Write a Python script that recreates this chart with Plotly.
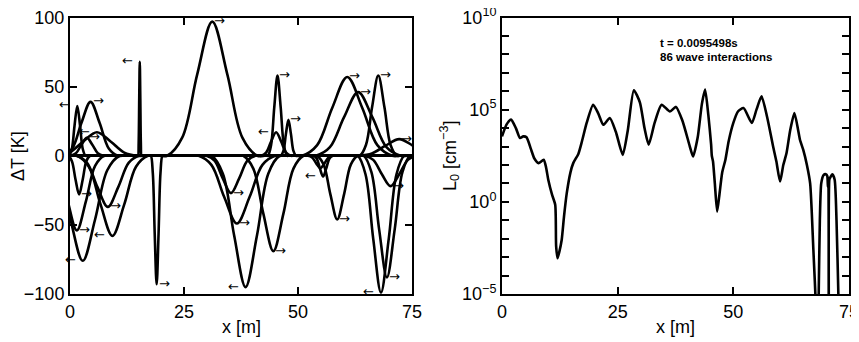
import numpy as np
import plotly.graph_objects as go

# ---------------------------------------------------------------------------
# Datos: pulsos de temperatura (panel izquierdo)
# ---------------------------------------------------------------------------
pulse_x = [
    [-0.5, -0.2, 0.4, 1.0, 1.6, 2.2, 2.8, 3.4, 3.7, 75],
    [-2.5, -1.5, 0.5, 2.5, 4.5, 6.5, 8.5, 10.5, 11.5, 75],
    [-4.6, -3.1, -0.1, 2.9, 5.9, 8.9, 11.9, 14.9, 16.4, 75],
    [-0.5, 0.1, 1.3, 2.5, 3.7, 4.9, 6.1, 7.3, 7.9, 75],
    [0, 14.88, 14.94, 15.06, 15.18, 15.3, 15.42, 15.54, 15.66, 15.72, 75],
    [0, 19.65, 21.3, 24.6, 27.9, 31.2, 34.5, 37.8, 41.1, 42.75, 75],
    [0, 43.05, 43.4, 44.1, 44.8, 45.5, 46.2, 46.9, 47.6, 47.95, 75],
    [0, 41.35, 41.9, 43.0, 44.1, 45.2, 46.3, 47.4, 48.5, 49.05, 75],
    [0, 45.98, 46.25, 46.8, 47.35, 47.9, 48.45, 49.0, 49.55, 49.83, 75],
    [0, 49.25, 50.9, 54.2, 57.5, 60.8, 64.1, 67.4, 70.7, 72.35, 75],
    [0, 52.35, 53.9, 57.0, 60.1, 63.2, 66.3, 69.4, 72.5, 74.05, 75],
    [0, 62.88, 63.55, 64.9, 66.25, 67.6, 68.95, 70.3, 71.65, 72.33, 75],
    [0, 61.7, 63.2, 66.2, 69.2, 72.2, 75.2, 78.2],
    [-0.8, -0.4, 0.4, 1.2, 2.0, 2.8, 3.6, 4.4, 4.8, 75],
    [-5.5, -4.5, -2.5, -0.5, 1.5, 3.5, 5.5, 7.5, 8.5, 75],
    [-6.65, -5.3, -2.6, 0.1, 2.8, 5.5, 8.2, 10.9, 12.25, 75],
    [0, 0.2, 1.5, 4.1, 6.7, 9.3, 11.9, 14.5, 17.1, 18.4, 75],
    [0, 0.25, 1.4, 3.7, 6.0, 8.3, 10.6, 12.9, 15.2, 16.35, 75],
    [0, 17.53, 17.74, 18.16, 18.58, 19.0, 19.42, 19.84, 20.26, 20.47, 75],
    [0, 29.0, 29.9, 31.7, 33.5, 35.3, 37.1, 38.9, 40.7, 41.6, 75],
    [0, 26.8, 28.2, 31.0, 33.8, 36.6, 39.4, 42.2, 45.0, 46.4, 75],
    [0, 29.75, 31.0, 33.5, 36.0, 38.5, 41.0, 43.5, 46.0, 47.25, 75],
    [0, 36.9, 38.0, 40.2, 42.4, 44.6, 46.8, 49.0, 51.2, 52.3, 75],
    [0, 53.05, 53.4, 54.1, 54.8, 55.5, 56.2, 56.9, 57.6, 57.95, 75],
    [0, 51.75, 52.2, 53.1, 54.0, 54.9, 55.8, 56.7, 57.6, 58.05, 75],
    [0, 53.35, 54.1, 55.6, 57.1, 58.6, 60.1, 61.6, 63.1, 63.85, 75],
    [0, 62.25, 63.1, 64.8, 66.5, 68.2, 69.9, 71.6, 73.3, 74.15, 75],
    [0, 63.55, 64.4, 66.1, 67.8, 69.5, 71.2, 72.9, 74.6, 75.45],
    [0, 63.65, 64.6, 66.5, 68.4, 70.3, 72.2, 74.1, 76.0, 76.95],
]
pulse_y = [
    [0, 0, 4.9, 21.9, 36, 21.9, 4.9, 0, 0, 0],
    [0, 0, 5.3, 23.7, 39, 23.7, 5.3, 0, 0, 0],
    [0, 0, 2.3, 10.3, 17, 10.3, 2.3, 0, 0, 0],
    [0, 0, 1.8, 7.9, 13, 7.9, 1.8, 0, 0, 0],
    [0, 0, 0, 9.2, 41.3, 68, 41.3, 9.2, 0, 0, 0],
    [0, 0, 0, 13.1, 58.9, 97, 58.9, 13.1, 0, 0, 0],
    [0, 0, 0, 7.8, 35.2, 58, 35.2, 7.8, 0, 0, 0],
    [0, 0, 0, 2.3, 10.3, 17, 10.3, 2.3, 0, 0, 0],
    [0, 0, 0, 3.5, 15.8, 26, 15.8, 3.5, 0, 0, 0],
    [0, 0, 0, 7.7, 34.6, 57, 34.6, 7.7, 0, 0, 0],
    [0, 0, 0, 6.2, 27.9, 46, 27.9, 6.2, 0, 0, 0],
    [0, 0, 0, 7.8, 35.2, 58, 35.2, 7.8, 0, 0, 0],
    [0, 0, 0, 1.6, 7.3, 12, 7.3, 1.6],
    [0, 0, -3.8, -17, -28, -17, -3.8, 0, 0, 0],
    [0, 0, -7.3, -32.8, -54, -32.8, -7.3, 0, 0, 0],
    [0, 0, -10.3, -46.1, -76, -46.1, -10.3, 0, 0, 0],
    [0, 0, 0, -7.8, -35.2, -58, -35.2, -7.8, 0, 0, 0],
    [0, 0, 0, -5, -22.5, -37, -22.5, -5, 0, 0, 0],
    [0, 0, 0, -12.6, -56.5, -93, -56.5, -12.6, 0, 0, 0],
    [0, 0, 0, -3.6, -16.4, -27, -16.4, -3.6, 0, 0, 0],
    [0, 0, 0, -6.6, -29.7, -49, -29.7, -6.6, 0, 0, 0],
    [0, 0, 0, -12.8, -57.7, -95, -57.7, -12.8, 0, 0, 0],
    [0, 0, 0, -9.3, -41.9, -69, -41.9, -9.3, 0, 0, 0],
    [0, 0, 0, -2, -9.1, -15, -9.1, -2, 0, 0, 0],
    [0, 0, 0, -1.2, -5.5, -9, -5.5, -1.2, 0, 0, 0],
    [0, 0, 0, -6.2, -27.9, -46, -27.9, -6.2, 0, 0, 0],
    [0, 0, 0, -13.4, -60.1, -99, -60.1, -13.4, 0, 0, 0],
    [0, 0, 0, -11.9, -53.4, -88, -53.4, -11.9, 0, 0],
    [0, 0, 0, -3, -13.4, -22, -13.4, -3, 0, 0],
]
# Sentido de propagación de cada pulso (flecha): 1 derecha, -1 izquierda, 0 sin flecha
pulse_dir = [-1, 1, -1, 1, -1, 1, 1, -1, 1, 1, 1, 1, 1,
             1, 1, -1, -1, 1, 1, 1, 1, -1, 1, -1, 0, 1, -1, 1, 1]

# ---------------------------------------------------------------------------
# Datos: L0 (panel derecho), exponentes en base 10
# ---------------------------------------------------------------------------
l0_x = [0, 1.0, 1.95, 3.0, 3.9, 4.6, 5.3, 6.2, 7.0, 7.9, 9.0, 9.5, 10.0, 10.8,
        11.5, 11.7, 12.0, 12.4, 12.9, 13.4, 14.0, 14.8, 15.4, 16.5, 17.3, 18.3,
        19.7, 20.8, 21.9, 23.3, 24.6, 26.1, 27.2, 28.5, 29.8, 30.8, 31.7, 33.0,
        34.5, 36.3, 37.6, 39.0, 40.6, 41.3, 42.3, 43.2, 43.9, 44.6, 45.2, 45.35,
        45.6, 46.0, 46.5, 47.0, 47.6, 48.3, 49.0, 50.0, 51.0, 52.2, 54.0, 55.0,
        56.1, 57.3, 58.6, 59.3, 60.1, 60.8, 61.5, 62.3, 63.2, 64.0, 64.4, 65.1,
        65.9, 66.6, 67.3, 67.9, 68.2, 68.45, 68.7, 69.0, 69.5, 70.0, 70.3, 70.45,
        70.55, 70.65, 70.75, 70.9, 71.4, 71.9, 72.3, 72.7, 73.1]
l0_log = [3.55, 4.2, 4.46, 4.0, 3.46, 3.55, 3.5, 2.9, 2.35, 2.1, 2.28, 1.9, 1.2, 0.4,
          -0.16, -2.4, -3.06, -2.7, -2.07, -0.8, 0.47, 1.6, 2.1, 2.6, 3.3, 4.28,
          5.27, 4.8, 4.18, 4.55, 3.8, 2.55, 3.9, 6.05, 5.4, 4.0, 3.1, 4.3,
          5.27, 4.9, 5.15, 4.4, 3.0, 2.46, 3.5, 5.3, 6.09, 4.7, 3.1, 2.5,
          2.2, 1.0, -0.53, 0.4, 1.6, 2.3, 3.3, 4.28, 4.9, 5.09, 4.28, 5.0,
          5.72, 4.6, 3.0, 2.2, 1.1, 2.0, 2.65, 3.9, 4.82, 3.9, 3.37, 2.83,
          2.0, 1.0, -2.6, -6, -9, -5, -1, 1.0, 1.45, 1.5, 1.4, 0.8,
          1.3, -9, 1.2, 1.3, 1.5, 1.2, -1, -5, -9]
l0 = 10.0 ** np.array(l0_log)

x_ticks = [0, 25, 50, 75]
dT_ticks = [-100, -50, 0, 50, 100]
# Marcas en cada década; sólo se rotulan 10^-5, 10^0, 10^5 y 10^10
l0_exp = list(range(-5, 11))
l0_ticks = [10.0 ** k for k in l0_exp]
l0_ticktext = [("10<sup>" + str(k).replace("-", "−") + "</sup>") if k % 5 == 0 else ""
               for k in l0_exp]

FUENTE = "Liberation Sans, Arial, Helvetica, sans-serif"

# El body de la página tiene 8 px de margen: la figura se dibuja 8 px más pequeña
W, H = 851, 334


def px(x):
    return (x - 8) / W


def py(y):
    return 1 - (y - 8) / H


fig = go.Figure()

# Panel izquierdo: pulsos
for xs, ys in zip(pulse_x, pulse_y):
    fig.add_trace(go.Scatter(
        x=xs, y=ys, mode="lines", xaxis="x", yaxis="y",
        line=dict(color="black", width=2.6, shape="spline", smoothing=1.0),
        showlegend=False, hoverinfo="skip"))

# Flechas de dirección en el pico de cada pulso
notas = []
for xs, ys, d in zip(pulse_x, pulse_y, pulse_dir):
    if d == 0:
        continue
    i = int(np.argmax(np.abs(ys)))
    notas.append(dict(
        x=xs[i], y=ys[i], xref="x", yref="y",
        text="→" if d > 0 else "←", showarrow=False,
        xanchor="left" if d > 0 else "right", yanchor="middle",
        xshift=0 if d > 0 else -5, yshift=1,
        font=dict(family="DejaVu Sans", size=13, color="black")))

# Panel derecho: L0
fig.add_trace(go.Scatter(
    x=l0_x, y=l0, mode="lines", xaxis="x2", yaxis="y2",
    line=dict(color="black", width=2.6, shape="spline", smoothing=0.6),
    showlegend=False, hoverinfo="skip"))

eje = dict(
    showline=True, linecolor="black", linewidth=2, mirror="ticks",
    ticks="inside", ticklen=7, tickwidth=2, tickcolor="black",
    showgrid=False, zeroline=False, automargin=False,
    ticklabeloverflow="allow",
    tickfont=dict(family=FUENTE, size=18, color="black"))

fig.update_layout(
    width=W, height=H,
    margin=dict(l=0, r=0, t=0, b=0),
    paper_bgcolor="white", plot_bgcolor="white",
    font=dict(family=FUENTE, color="black"),
    xaxis=dict(domain=[px(70), px(412)], range=[0, 75],
               tickmode="array", tickvals=x_ticks, anchor="y", **eje),
    yaxis=dict(domain=[py(294), py(17.5)], range=[-100, 100],
               tickmode="array", tickvals=dT_ticks, anchor="x", **eje),
    xaxis2=dict(domain=[px(502), px(849)], range=[0, 75],
                tickmode="array", tickvals=x_ticks, anchor="y2", **eje),
    yaxis2=dict(domain=[py(294), py(17.5)], type="log", range=[-5, 10],
                tickmode="array", tickvals=l0_ticks, ticktext=l0_ticktext,
                anchor="x2", **eje),
)

textos = [
    dict(x=px(241), y=py(327), text="x [m]"),
    dict(x=px(675), y=py(327), text="x [m]"),
    dict(x=px(18), y=py(156), text="ΔT [K]", textangle=-90),
    dict(x=px(450), y=py(156), text="L<sub>0</sub> [cm<sup>−3</sup>]",
         textangle=-90),
]
for t in textos:
    notas.append(dict(xref="paper", yref="paper", showarrow=False,
                      xanchor="center", yanchor="middle",
                      font=dict(family=FUENTE, size=18, color="black"), **t))

for i, linea in enumerate(["t = 0.0095498s", "86 wave interactions"]):
    notas.append(dict(
        xref="paper", yref="paper", x=px(658), y=py(43 + 14 * i),
        text="<b>" + linea + "</b>", showarrow=False,
        xanchor="left", yanchor="middle",
        font=dict(family=FUENTE, size=11.5, color="black")))

fig.update_layout(annotations=notas)

fig.write_html("out.html")
